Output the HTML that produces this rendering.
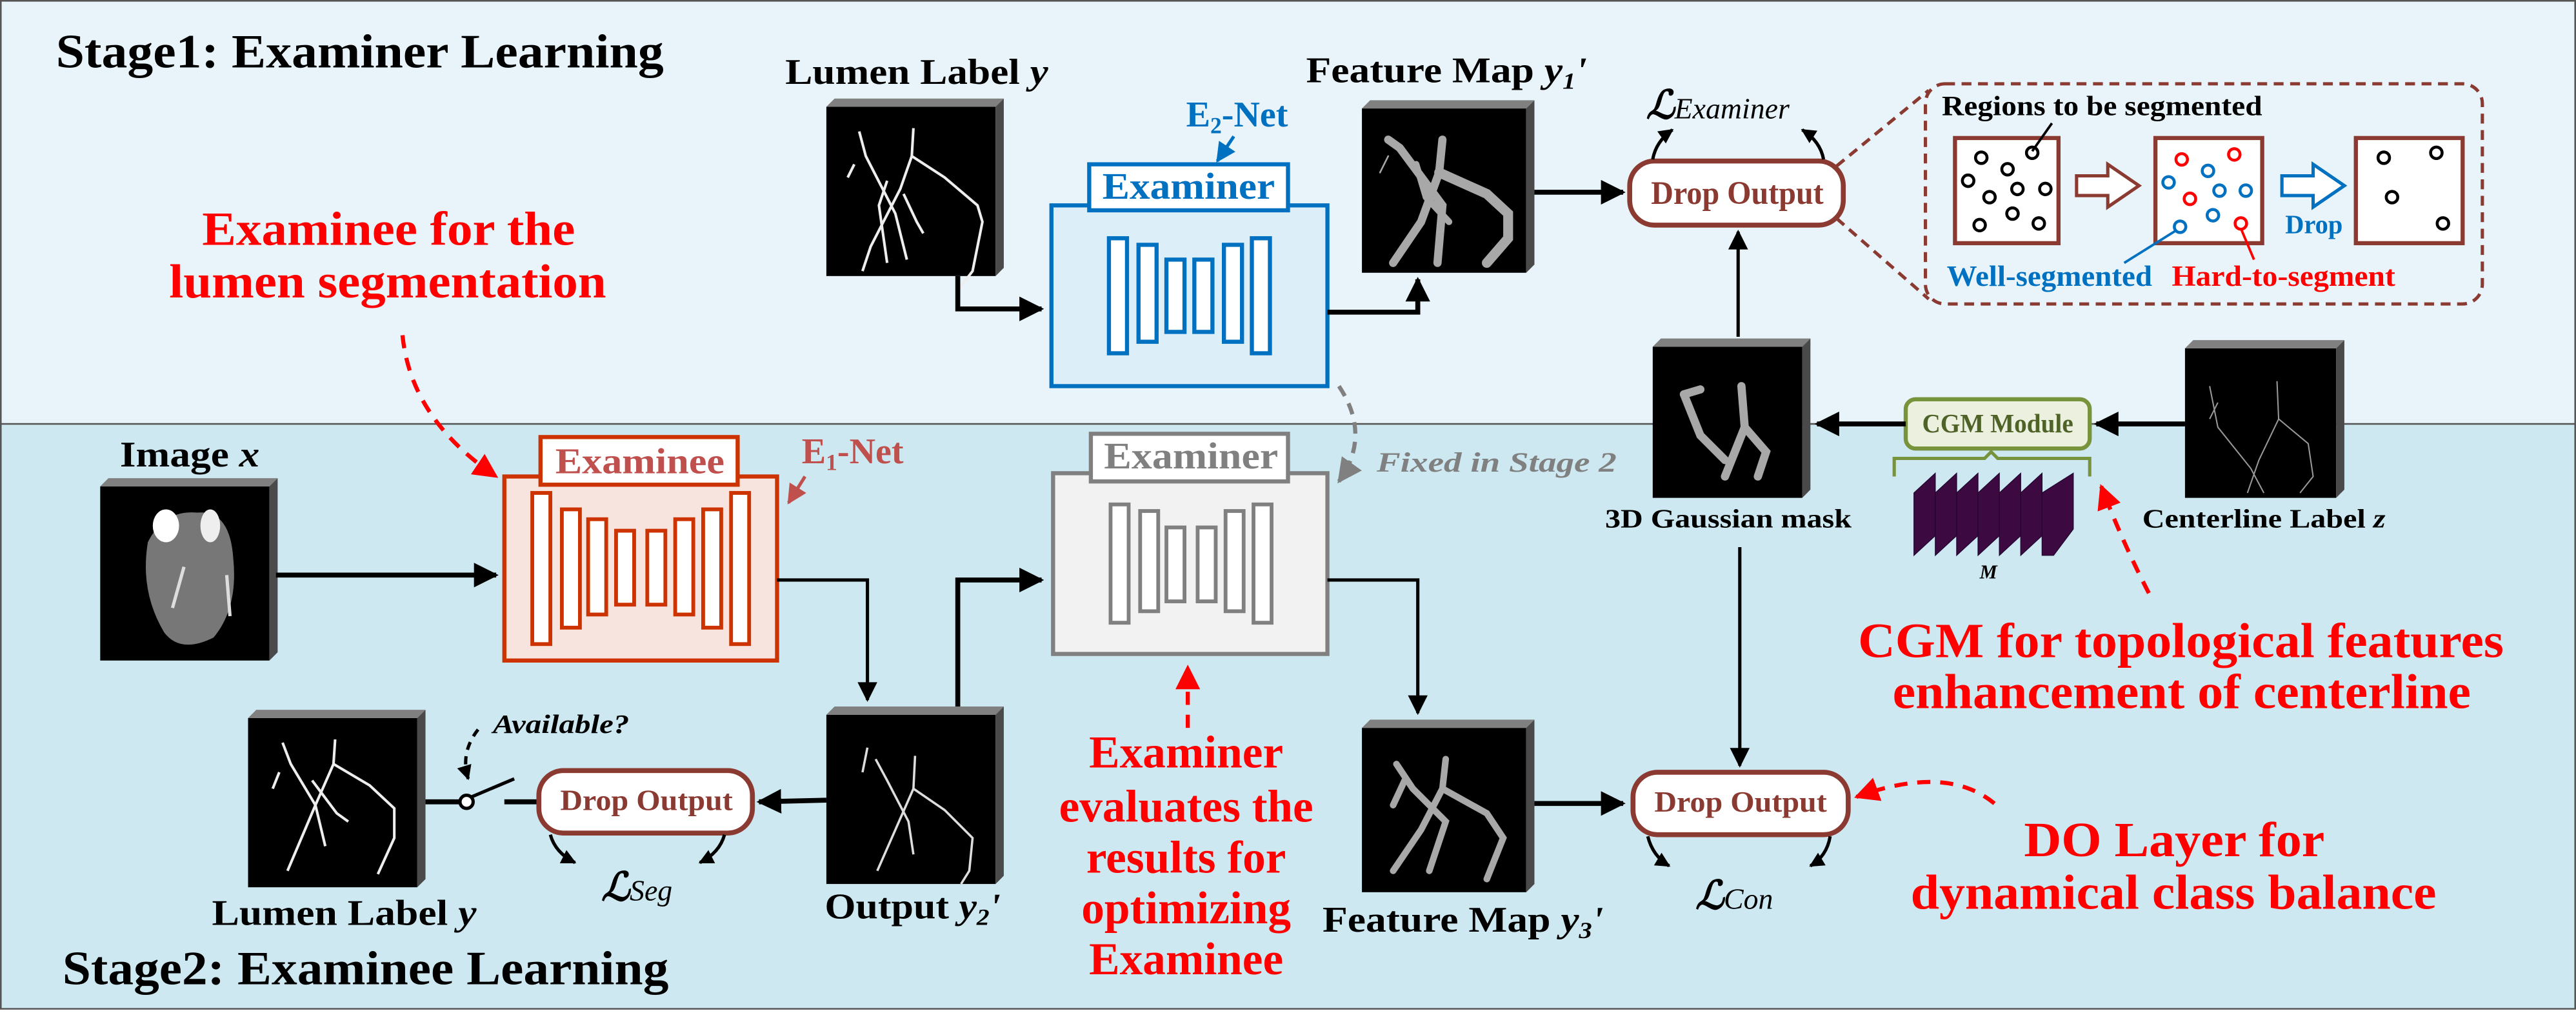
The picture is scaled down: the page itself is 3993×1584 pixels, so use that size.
<!DOCTYPE html>
<html><head><meta charset="utf-8"><style>
html,body{margin:0;padding:0;background:#fff}
svg{display:block}
text{font-family:"Liberation Serif","DejaVu Serif",serif;font-weight:bold}
</style></head><body>
<svg width="3993" height="1584" viewBox="0 0 1568 622" preserveAspectRatio="none" xmlns="http://www.w3.org/2000/svg">
<defs>
<marker id="ah" viewBox="0 0 10 10" refX="9" refY="5" markerWidth="5" markerHeight="5" orient="auto" markerUnits="strokeWidth"><path d="M0,0 L10,5 L0,10 z" fill="#000"/></marker>
<marker id="ahs" viewBox="0 0 10 10" refX="9" refY="5" markerWidth="7" markerHeight="6" orient="auto" markerUnits="strokeWidth"><path d="M0,0 L10,5 L0,10 z" fill="#000"/></marker>
<marker id="ahc" viewBox="0 0 10 10" refX="9" refY="5" markerWidth="4.5" markerHeight="4.5" orient="auto" markerUnits="strokeWidth"><path d="M0,0 L10,5 L0,10 z" fill="#000"/></marker>
<marker id="ahr" viewBox="0 0 10 10" refX="9" refY="5" markerWidth="6" markerHeight="6" orient="auto" markerUnits="strokeWidth"><path d="M0,0 L10,5 L0,10 z" fill="#f00"/></marker>
<marker id="ahg" viewBox="0 0 10 10" refX="9" refY="5" markerWidth="6" markerHeight="6" orient="auto" markerUnits="strokeWidth"><path d="M0,0 L10,5 L0,10 z" fill="#808080"/></marker>
<marker id="ahb" viewBox="0 0 10 10" refX="9" refY="5" markerWidth="6" markerHeight="6" orient="auto" markerUnits="strokeWidth"><path d="M0,0 L10,5 L0,10 z" fill="#0070c0"/></marker>
<marker id="ahe" viewBox="0 0 10 10" refX="9" refY="5" markerWidth="6" markerHeight="6" orient="auto" markerUnits="strokeWidth"><path d="M0,0 L10,5 L0,10 z" fill="#c0504d"/></marker>
</defs>
<!-- panels -->
<rect x="0.5" y="0.5" width="1567" height="258" fill="#e8f4f9" stroke="#555" stroke-width="1"/>
<rect x="0.5" y="258" width="1567" height="356" fill="#cde8f0" stroke="#555" stroke-width="1"/>
<rect x="0" y="614.5" width="1568" height="8" fill="#fff"/>

<!-- Titles -->
<text x="34" y="41" font-size="29" textLength="370" lengthAdjust="spacingAndGlyphs">Stage1: Examiner Learning</text>
<text x="38" y="599" font-size="29" textLength="369" lengthAdjust="spacingAndGlyphs">Stage2: Examinee Learning</text>

<!-- red annotations -->
<g fill="#ff0000">
<text x="123" y="149" font-size="29" textLength="227" lengthAdjust="spacingAndGlyphs">Examinee for the</text>
<text x="103" y="181" font-size="29" textLength="266" lengthAdjust="spacingAndGlyphs">lumen segmentation</text>
<text x="1131" y="400" font-size="30" textLength="393" lengthAdjust="spacingAndGlyphs">CGM for topological features</text>
<text x="1152" y="431" font-size="30" textLength="352" lengthAdjust="spacingAndGlyphs">enhancement of centerline</text>
<text x="1232" y="521" font-size="30" textLength="183" lengthAdjust="spacingAndGlyphs">DO Layer for</text>
<text x="1163" y="553" font-size="30" textLength="320" lengthAdjust="spacingAndGlyphs">dynamical class balance</text>
<g text-anchor="middle" font-size="28">
<text x="722" y="467">Examiner</text>
<text x="722" y="500">evaluates the</text>
<text x="722" y="531">results for</text>
<text x="722" y="562">optimizing</text>
<text x="722" y="593">Examinee</text>
</g>
</g>
<!-- red dashed arrows -->
<g fill="none" stroke="#f00" stroke-width="2.5" stroke-dasharray="8,6">
<path d="M245,204 Q250,255 302,290" marker-end="url(#ahr)"/>
<path d="M723,443 L723,406" marker-end="url(#ahr)"/>
<path d="M1308,361 Q1292,330 1279,296" marker-end="url(#ahr)"/>
<path d="M1214,489 Q1185,465 1130,485" marker-end="url(#ahr)"/>
</g>

<!-- Lumen label y top -->
<g>
<rect x="503" y="65" width="103" height="103" fill="#000"/>
<polygon points="503,65 508,60 611,60 606,65" fill="#808080"/>
<polygon points="606,65 611,60 611,163 606,168" fill="#4a4a4a"/>
<g stroke="#eee" stroke-width="1.6" fill="none">
<path d="M523,80 L527,95 L545,130 L552,158"/><path d="M556,78 L555,95 L548,115 L530,150 L525,165"/>
<path d="M555,95 L575,108 L595,125 L598,135 L592,165 L582,178"/><path d="M540,110 L535,125 L540,160"/>
<path d="M520,100 L516,108"/><path d="M550,118 L558,135 L562,142"/>
</g>
</g>
<text x="478" y="51" font-size="22" textLength="160" lengthAdjust="spacingAndGlyphs">Lumen Label <tspan font-style="italic">y</tspan></text>

<!-- E2-Net -->
<text x="722" y="77" font-size="22" fill="#0070c0">E<tspan font-size="14" dy="4">2</tspan><tspan dy="-4">-Net</tspan></text>
<line x1="751" y1="83" x2="741" y2="98" stroke="#0070c0" stroke-width="2" marker-end="url(#ahb)"/>
<!-- Examiner blue -->
<rect x="640" y="125" width="168" height="110" fill="#dceef8" stroke="#0070c0" stroke-width="2.5"/>
<rect x="663" y="100" width="121" height="28" fill="#fff" stroke="#0070c0" stroke-width="2.5"/>
<text x="671" y="121" font-size="23" fill="#0070c0" textLength="105" lengthAdjust="spacingAndGlyphs">Examiner</text>
<g fill="#fff" stroke="#0070c0" stroke-width="2.5">
<rect x="675" y="145" width="11" height="70"/><rect x="693" y="149" width="11" height="59"/>
<rect x="710" y="158" width="11" height="44"/><rect x="727" y="158" width="11" height="44"/>
<rect x="745" y="149" width="11" height="59"/><rect x="762" y="145" width="11" height="70"/>
</g>
<!-- arrows top -->
<g fill="none" stroke="#000" stroke-width="3">
<path d="M583,168 L583,188 L634,188" marker-end="url(#ah)"/>
<path d="M808,190 L863,190 L863,170" marker-end="url(#ah)"/>
<path d="M934,117 L988,117" marker-end="url(#ah)"/>
<path d="M1058,205 L1058,141" stroke-width="2" marker-end="url(#ahs)"/>
</g>

<!-- Feature map y1' -->
<rect x="829" y="66" width="100" height="100" fill="#000"/>
<polygon points="829,66 834,61 934,61 929,66" fill="#808080"/>
<polygon points="929,66 934,61 934,161 929,166" fill="#4a4a4a"/>
<g stroke="#a8a8a8" stroke-linecap="round" fill="none">
<path d="M845,85 L852,90 L878,125 L875,160" stroke-width="5"/><path d="M878,85 L876,105 L865,135 L848,160" stroke-width="5"/>
<path d="M876,105 L905,118 L918,130 L918,145 L905,160" stroke-width="6"/><path d="M845,95 L840,105"/><path d="M862,100 L868,120 L882,135" stroke-width="4"/>
</g>
<text x="795" y="50" font-size="22" textLength="171" lengthAdjust="spacingAndGlyphs">Feature Map <tspan font-style="italic">y<tspan font-size="14" dy="4">1</tspan><tspan dy="-4">'</tspan></tspan></text>

<!-- Drop output top -->
<rect x="992" y="98" width="130" height="39" rx="15" fill="#fff" stroke="#8b3a32" stroke-width="3"/>
<text x="1005" y="124" font-size="20" fill="#8b3a32" textLength="105" lengthAdjust="spacingAndGlyphs">Drop Output</text>
<text x="1002" y="72" font-size="24" font-style="italic">ℒ<tspan font-size="18" font-weight="normal">Examiner</tspan></text>
<g fill="none" stroke="#000" stroke-width="2">
<path d="M1006,97 Q1008,86 1018,79" marker-end="url(#ahc)"/>
<path d="M1110,97 Q1108,86 1097,79" marker-end="url(#ahc)"/>
</g>

<!-- callout -->
<g fill="none" stroke="#8b3a32" stroke-width="2" stroke-dasharray="6,4">
<rect x="1172" y="51" width="339" height="134" rx="12"/>
<line x1="1118" y1="101" x2="1174" y2="55"/>
<line x1="1118" y1="133" x2="1174" y2="182"/>
</g>
<text x="1182" y="70" font-size="17" textLength="195" lengthAdjust="spacingAndGlyphs">Regions to be segmented</text>
<g fill="#fff" stroke="#8b3a32" stroke-width="2.5">
<rect x="1190" y="84" width="63" height="64"/><rect x="1312" y="84" width="65" height="64"/><rect x="1434" y="84" width="65" height="64"/>
</g>
<line x1="1249" y1="75" x2="1237" y2="92" stroke="#000" stroke-width="1.5"/>
<g fill="none" stroke="#000" stroke-width="1.8">
<circle cx="1206" cy="96" r="3.5"/><circle cx="1222" cy="103" r="3.5"/><circle cx="1237" cy="93" r="3.5"/>
<circle cx="1198" cy="110" r="3.5"/><circle cx="1228" cy="115" r="3.5"/><circle cx="1245" cy="115" r="3.5"/>
<circle cx="1211" cy="120" r="3.5"/><circle cx="1225" cy="130" r="3.5"/><circle cx="1205" cy="137" r="3.5"/><circle cx="1241" cy="136" r="3.5"/>
<circle cx="1451" cy="96" r="3.5"/><circle cx="1483" cy="93" r="3.5"/><circle cx="1456" cy="120" r="3.5"/><circle cx="1487" cy="136" r="3.5"/>
</g>
<g fill="none" stroke="#f00" stroke-width="1.8">
<circle cx="1328" cy="97" r="3.5"/><circle cx="1360" cy="94" r="3.5"/><circle cx="1333" cy="121" r="3.5"/><circle cx="1364" cy="136" r="3.5"/>
</g>
<g fill="none" stroke="#0070c0" stroke-width="1.8">
<circle cx="1344" cy="104" r="3.5"/><circle cx="1320" cy="111" r="3.5"/><circle cx="1351" cy="116" r="3.5"/>
<circle cx="1367" cy="116" r="3.5"/><circle cx="1347" cy="131" r="3.5"/><circle cx="1327" cy="138" r="3.5"/>
</g>
<line x1="1293" y1="160" x2="1325" y2="140" stroke="#0070c0" stroke-width="1.5"/>
<line x1="1372" y1="158" x2="1364" y2="139" stroke="#f00" stroke-width="1.5"/>
<polygon points="1264,107 1283,107 1283,100 1302,113 1283,126 1283,119 1264,119" fill="#fff" stroke="#8b3a32" stroke-width="2"/>
<polygon points="1389,107 1408,107 1408,100 1427,113 1408,126 1408,119 1389,119" fill="#fff" stroke="#0070c0" stroke-width="2"/>
<text x="1391" y="142" font-size="16" fill="#0070c0" textLength="35" lengthAdjust="spacingAndGlyphs">Drop</text>
<text x="1185" y="174" font-size="18" fill="#0070c0" textLength="125" lengthAdjust="spacingAndGlyphs">Well-segmented</text>
<text x="1322" y="174" font-size="18" fill="#f00" textLength="136" lengthAdjust="spacingAndGlyphs">Hard-to-segment</text>

<!-- 3D gaussian mask -->
<rect x="1006" y="211" width="91" height="92" fill="#000"/>
<polygon points="1006,211 1011,206 1102,206 1097,211" fill="#808080"/>
<polygon points="1097,211 1102,206 1102,298 1097,303" fill="#4a4a4a"/>
<g stroke="#a8a8a8" stroke-linecap="round" fill="none" stroke-width="5">
<path d="M1025,240 L1035,265 L1050,280"/><path d="M1060,235 L1062,260 L1050,290"/><path d="M1062,260 L1075,275 L1070,290"/><path d="M1025,240 L1035,237"/>
</g>
<text x="977" y="321" font-size="16" textLength="150" lengthAdjust="spacingAndGlyphs">3D Gaussian mask</text>
<!-- centerline -->
<rect x="1330" y="212" width="92" height="91" fill="#000"/>
<polygon points="1330,212 1335,207 1427,207 1422,212" fill="#808080"/>
<polygon points="1422,212 1427,207 1427,298 1422,303" fill="#4a4a4a"/>
<g stroke="#999" stroke-width="0.8" fill="none">
<path d="M1345,235 L1350,260 L1370,285 L1378,300"/><path d="M1386,232 L1387,255 L1375,280 L1368,300"/><path d="M1387,255 L1405,270 L1408,290 L1400,300"/><path d="M1350,245 L1345,255"/>
</g>
<text x="1304" y="321" font-size="16" textLength="148" lengthAdjust="spacingAndGlyphs">Centerline Label <tspan font-style="italic">z</tspan></text>
<!-- CGM -->
<rect x="1160" y="243" width="112" height="30" rx="6" fill="#ebf1de" stroke="#77933c" stroke-width="2.5"/>
<text x="1170" y="263" font-size="16" fill="#4f6228" font-weight="normal" textLength="92" lengthAdjust="spacingAndGlyphs">CGM Module</text>
<path d="M1153,290 L1153,279 L1208,279 L1212,275 L1216,279 L1272,279 L1272,290" fill="none" stroke="#77933c" stroke-width="2"/>
<g fill="#3c0a40" stroke="#200530" stroke-width="0.5">
<polygon points="1165,338 1165,300 1178,288 1178,326"/>
<polygon points="1178,338 1178,300 1191,288 1191,326"/>
<polygon points="1191,338 1191,300 1204,288 1204,326"/>
<polygon points="1204,338 1204,300 1217,288 1217,326"/>
<polygon points="1217,338 1217,300 1230,288 1230,326"/>
<polygon points="1230,338 1230,300 1243,288 1243,326"/>
<polygon points="1243,338 1243,300 1262,288 1262,322 1250,338"/>
</g>
<text x="1205" y="352" font-size="12" font-style="italic" font-weight="normal">M</text>
<g fill="none" stroke="#000" stroke-width="3">
<path d="M1330,258 L1276,258" marker-end="url(#ah)"/>
<path d="M1160,258 L1106,258" marker-end="url(#ah)"/>
</g>

<!-- bottom: Image x -->
<text x="73" y="284" font-size="22" textLength="85" lengthAdjust="spacingAndGlyphs">Image <tspan font-style="italic">x</tspan></text>
<rect x="61" y="296" width="103" height="106" fill="#000"/>
<polygon points="61,296 66,291 169,291 164,296" fill="#808080"/>
<polygon points="164,296 169,291 169,397 164,402" fill="#4a4a4a"/>
<path d="M90,330 Q100,310 120,312 Q140,310 142,340 Q145,370 130,388 Q110,398 100,385 Q85,360 90,330 z" fill="#777"/>
<ellipse cx="101" cy="320" rx="8" ry="10" fill="#fff"/><ellipse cx="128" cy="320" rx="6" ry="10" fill="#eee"/>
<path d="M112,345 L105,370 M138,350 L140,375" stroke="#ddd" stroke-width="2"/>

<!-- Examinee -->
<rect x="307" y="290" width="166" height="112" fill="#f8e4df" stroke="#cc3300" stroke-width="2.5"/>
<rect x="329" y="266" width="120" height="29" fill="#fff" stroke="#cc3300" stroke-width="2.5"/>
<text x="338" y="288" font-size="22" fill="#c0504d" textLength="103" lengthAdjust="spacingAndGlyphs">Examinee</text>
<g fill="#fff" stroke="#cc3300" stroke-width="2.3">
<rect x="324" y="300" width="11" height="92"/><rect x="342" y="310" width="11" height="72"/>
<rect x="358" y="316" width="11" height="58"/><rect x="375" y="323" width="11" height="45"/>
<rect x="394" y="323" width="11" height="45"/><rect x="411" y="316" width="11" height="58"/>
<rect x="428" y="310" width="11" height="72"/><rect x="445" y="300" width="11" height="92"/>
</g>
<text x="488" y="282" font-size="22" fill="#c0504d" font-weight="normal">E<tspan font-size="14" dy="4">1</tspan><tspan dy="-4">-Net</tspan></text>
<line x1="490" y1="290" x2="480" y2="306" stroke="#c0504d" stroke-width="2" marker-end="url(#ahe)"/>

<!-- grey examiner -->
<rect x="641" y="288" width="167" height="110" fill="#f2f2f2" stroke="#808080" stroke-width="2.5"/>
<rect x="664" y="264" width="120" height="29" fill="#fff" stroke="#808080" stroke-width="2.5"/>
<text x="672" y="285" font-size="23" fill="#808080" textLength="106" lengthAdjust="spacingAndGlyphs">Examiner</text>
<g fill="#fff" stroke="#808080" stroke-width="2.3">
<rect x="676" y="307" width="11" height="72"/><rect x="694" y="311" width="11" height="61"/>
<rect x="710" y="321" width="11" height="45"/><rect x="729" y="321" width="11" height="45"/>
<rect x="746" y="311" width="11" height="61"/><rect x="763" y="307" width="11" height="72"/>
</g>
<path d="M815,235 Q835,265 815,293" fill="none" stroke="#808080" stroke-width="2.5" stroke-dasharray="7,5" marker-end="url(#ahg)"/>
<text x="838" y="287" font-size="17" fill="#808080" font-style="italic" textLength="146" lengthAdjust="spacingAndGlyphs">Fixed in Stage 2</text>

<!-- bottom arrows -->
<g fill="none" stroke="#000" stroke-width="3">
<path d="M168,350 L302,350" marker-end="url(#ah)"/>
<path d="M473,353 L528,353 L528,426" stroke-width="2" marker-end="url(#ahs)"/>
<path d="M583,430 L583,353 L634,353" marker-end="url(#ah)"/>
<path d="M808,353 L863,353 L863,434" stroke-width="2" marker-end="url(#ahs)"/>
<path d="M934,489 L988,489" marker-end="url(#ah)"/>
<path d="M1059,333 L1059,466" stroke-width="2" marker-end="url(#ahs)"/>
<path d="M503,487 L462,488" marker-end="url(#ah)"/>
</g>

<!-- output y2' -->
<rect x="503" y="435" width="103" height="103" fill="#000"/>
<polygon points="503,435 508,430 611,430 606,435" fill="#808080"/>
<polygon points="606,435 611,430 611,533 606,538" fill="#4a4a4a"/>
<g stroke="#ddd" stroke-width="1.4" fill="none">
<path d="M533,462 L540,475 L553,500 L556,520"/><path d="M557,460 L556,480 L545,505 L534,530"/>
<path d="M556,480 L575,493 L592,510 L590,530 L585,538"/><path d="M528,455 L525,470"/>
</g>
<text x="502" y="559" font-size="22" textLength="107" lengthAdjust="spacingAndGlyphs">Output <tspan font-style="italic">y<tspan font-size="14" dy="4">2</tspan><tspan dy="-4">'</tspan></tspan></text>

<!-- feature map y3' -->
<rect x="829" y="443" width="100" height="100" fill="#000"/>
<polygon points="829,443 834,438 934,438 929,443" fill="#808080"/>
<polygon points="929,443 934,438 934,538 929,543" fill="#4a4a4a"/>
<g stroke="#a8a8a8" stroke-linecap="round" fill="none" stroke-width="4">
<path d="M850,465 L860,480 L880,500 L870,530"/><path d="M880,462 L878,480 L865,505 L848,530"/><path d="M878,480 L905,495 L915,510 L905,535"/><path d="M855,475 L848,490"/>
</g>
<text x="805" y="567" font-size="22" textLength="171" lengthAdjust="spacingAndGlyphs">Feature Map <tspan font-style="italic">y<tspan font-size="14" dy="4">3</tspan><tspan dy="-4">'</tspan></tspan></text>

<!-- drop output bottom right -->
<rect x="994" y="470" width="131" height="38" rx="15" fill="#fff" stroke="#8b3a32" stroke-width="3"/>
<text x="1007" y="494" font-size="18" fill="#8b3a32" textLength="105" lengthAdjust="spacingAndGlyphs">Drop Output</text>
<g fill="none" stroke="#000" stroke-width="2">
<path d="M1003,509 Q1006,521 1016,527" marker-end="url(#ahc)"/>
<path d="M1114,509 Q1112,521 1102,527" marker-end="url(#ahc)"/>
</g>
<text x="1032" y="553" font-size="24" font-style="italic">ℒ<tspan font-size="18" font-weight="normal">Con</tspan></text>

<!-- lumen label lower left -->
<rect x="151" y="437" width="103" height="103" fill="#000"/>
<polygon points="151,437 156,432 259,432 254,437" fill="#808080"/>
<polygon points="254,437 259,432 259,535 254,540" fill="#4a4a4a"/>
<g stroke="#eee" stroke-width="1.6" fill="none">
<path d="M172,452 L177,465 L192,490 L198,515"/><path d="M204,450 L203,465 L192,490 L175,530"/>
<path d="M203,465 L225,478 L240,492 L240,510 L230,532"/><path d="M170,470 L166,480"/><path d="M190,475 L205,495 L212,500"/>
</g>
<text x="129" y="563" font-size="22" textLength="161" lengthAdjust="spacingAndGlyphs">Lumen Label <tspan font-style="italic">y</tspan></text>
<!-- switch -->
<line x1="259" y1="488" x2="280" y2="488" stroke="#000" stroke-width="3"/>
<circle cx="284" cy="488" r="4" fill="#fff" stroke="#000" stroke-width="2"/>
<line x1="287" y1="485" x2="313" y2="474" stroke="#000" stroke-width="2"/>
<line x1="307" y1="488" x2="328" y2="488" stroke="#000" stroke-width="3"/>
<text x="300" y="446" font-size="16" font-style="italic" textLength="83" lengthAdjust="spacingAndGlyphs">Available?</text>
<path d="M291,444 Q280,458 285,474" fill="none" stroke="#000" stroke-width="2" stroke-dasharray="5,4" marker-end="url(#ahc)"/>
<rect x="328" y="469" width="130" height="38" rx="15" fill="#fff" stroke="#8b3a32" stroke-width="3"/>
<text x="341" y="493" font-size="18" fill="#8b3a32" textLength="105" lengthAdjust="spacingAndGlyphs">Drop Output</text>
<g fill="none" stroke="#000" stroke-width="2">
<path d="M335,508 Q338,519 350,525" marker-end="url(#ahc)"/>
<path d="M441,508 Q438,519 426,525" marker-end="url(#ahc)"/>
</g>
<text x="366" y="548" font-size="24" font-style="italic">ℒ<tspan font-size="18" font-weight="normal">Seg</tspan></text>
</svg>
</body></html>
